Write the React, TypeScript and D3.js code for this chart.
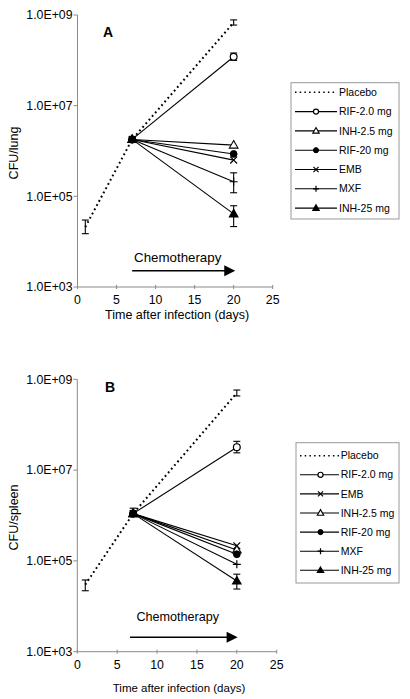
import React from "react";
import * as d3 from "d3";

// ---- Data ----
const daysPlacebo = [1, 7, 20];
const daysTreat = [7, 20];
const yTicks = [1e3, 1e5, 1e7, 1e9];
const xTicks = [0, 5, 10, 15, 20, 25];

// Panel A (lung)
const lungPlacebo = [2.1e4, 1.8e6, 6.8e8];
const lungPlaceboLo = [1.5e4, null, 6.0e8];
const lungPlaceboHi = [3.0e4, null, 7.8e8];
const lungRIF2 = [1.8e6, 1.2e8];
const lungRIF2Lo = [null, 1.0e8];
const lungRIF2Hi = [null, 1.45e8];
const lungINH2_5 = [1.8e6, 1.35e6];
const lungRIF20 = [1.8e6, 8.6e5];
const lungEMB = [1.8e6, 6.3e5];
const lungMXF = [1.8e6, 2.1e5];
const lungMXFLo = [null, 1.2e5];
const lungMXFHi = [null, 3.3e5];
const lungINH25 = [1.8e6, 4.1e4];
const lungINH25Lo = [null, 2.15e4];
const lungINH25Hi = [null, 6.2e4];

// Panel B (spleen)
const spleenPlacebo = [3.0e4, 1.1e6, 5.0e8];
const spleenPlaceboLo = [2.2e4, null, 4.3e8];
const spleenPlaceboHi = [3.8e4, 1.45e6, 5.8e8];
const spleenRIF2 = [1.1e6, 3.2e7];
const spleenRIF2Lo = [null, 2.4e7];
const spleenRIF2Hi = [null, 4.3e7];
const spleenEMB = [1.1e6, 2.15e5];
const spleenINH2_5 = [1.1e6, 1.74e5];
const spleenRIF20 = [1.1e6, 1.4e5];
const spleenMXF = [1.1e6, 8.4e4];
const spleenINH25 = [1.1e6, 3.6e4];
const spleenINH25Lo = [null, 2.4e4];
const spleenINH25Hi = [null, 5.1e4];

type Series = {
  name: string;
  marker: string;
  dotted?: boolean;
  days: number[];
  values: number[];
  lo?: (number | null)[];
  hi?: (number | null)[];
};

const seriesA: Series[] = [
  { name: "Placebo", marker: "none", dotted: true, days: daysPlacebo, values: lungPlacebo, lo: lungPlaceboLo, hi: lungPlaceboHi },
  { name: "RIF-2.0 mg", marker: "circleOpen", days: daysTreat, values: lungRIF2, lo: lungRIF2Lo, hi: lungRIF2Hi },
  { name: "INH-2.5 mg", marker: "triOpen", days: daysTreat, values: lungINH2_5 },
  { name: "RIF-20 mg", marker: "circleFilled", days: daysTreat, values: lungRIF20 },
  { name: "EMB", marker: "x", days: daysTreat, values: lungEMB },
  { name: "MXF", marker: "plus", days: daysTreat, values: lungMXF, lo: lungMXFLo, hi: lungMXFHi },
  { name: "INH-25 mg", marker: "triFilled", days: daysTreat, values: lungINH25, lo: lungINH25Lo, hi: lungINH25Hi },
];

const seriesB: Series[] = [
  { name: "Placebo", marker: "none", dotted: true, days: daysPlacebo, values: spleenPlacebo, lo: spleenPlaceboLo, hi: spleenPlaceboHi },
  { name: "RIF-2.0 mg", marker: "circleOpen", days: daysTreat, values: spleenRIF2, lo: spleenRIF2Lo, hi: spleenRIF2Hi },
  { name: "EMB", marker: "x", days: daysTreat, values: spleenEMB },
  { name: "INH-2.5 mg", marker: "triOpen", days: daysTreat, values: spleenINH2_5 },
  { name: "RIF-20 mg", marker: "circleFilled", days: daysTreat, values: spleenRIF20 },
  { name: "MXF", marker: "plus", days: daysTreat, values: spleenMXF },
  { name: "INH-25 mg", marker: "triFilled", days: daysTreat, values: spleenINH25, lo: spleenINH25Lo, hi: spleenINH25Hi },
];

const FONT = "'Liberation Sans', Arial, sans-serif";

function Marker({ type, x, y, s = 1 }: { type: string; x: number; y: number; s?: number }) {
  const r = 3.4 * s;
  switch (type) {
    case "circleOpen":
      return <circle cx={x} cy={y} r={r} fill="#fff" stroke="#000" strokeWidth={1.2} />;
    case "circleFilled":
      return <circle cx={x} cy={y} r={r} fill="#000" stroke="#000" strokeWidth={1} />;
    case "triOpen":
    case "triFilled": {
      const h = 7.5 * s;
      const w = 4.3 * s;
      const p = `M${x},${y - h * 0.6} L${x + w},${y + h * 0.4} L${x - w},${y + h * 0.4} Z`;
      return <path d={p} fill={type === "triFilled" ? "#000" : "#fff"} stroke="#000" strokeWidth={1.1} />;
    }
    case "x": {
      const a = 3.4 * s;
      return (
        <path d={`M${x - a},${y - a} L${x + a},${y + a} M${x - a},${y + a} L${x + a},${y - a}`} stroke="#000" strokeWidth={1.2} />
      );
    }
    case "plus": {
      const a = 4 * s;
      return <path d={`M${x - a},${y} L${x + a},${y} M${x},${y - a} L${x},${y + a}`} stroke="#000" strokeWidth={1.2} />;
    }
    default:
      return null;
  }
}

type PanelCfg = {
  label: string;
  yLabel: string;
  series: Series[];
  xRange: [number, number];
  yRange: [number, number];
  titleX: number;
  titleY: number;
  yLabelX: number;
  xTitleY: number;
  xTitleSize: number;
  chemoTextDy: number;
  chemoArrowDy: number;
  chemoDays: [number, number];
  chemoSize: number;
  legend: { x0: number; x1: number; y0: number; y1: number; firstRow: number; rowH: number; lx0: number; lx1: number; mx: number; tx: number };
};

function Panel({ cfg }: { cfg: PanelCfg }) {
  const x = d3.scaleLinear().domain([0, 25]).range(cfg.xRange);
  const y = d3.scaleLog().domain([1e3, 1e9]).range(cfg.yRange);
  const line = d3
    .line<[number, number]>()
    .x((d) => x(d[0]))
    .y((d) => y(d[1]));
  const bottom = cfg.yRange[0];
  const top = cfg.yRange[1];
  const left = cfg.xRange[0];
  const right = cfg.xRange[1];
  const axisColor = "#8a8a8a";
  const fmt = (v: number) => `1.0E+${String(Math.round(Math.log10(v))).padStart(2, "0")}`;
  const L = cfg.legend;
  const [c0, c1] = cfg.chemoDays;

  return (
    <g fontFamily={FONT}>
      {/* axes */}
      <line x1={left} x2={left} y1={top} y2={bottom} stroke={axisColor} strokeWidth={1} />
      <line x1={left} x2={right} y1={bottom} y2={bottom} stroke={axisColor} strokeWidth={1} />
      {yTicks.map((t) => (
        <g key={t}>
          <line x1={left - 4} x2={left} y1={y(t)} y2={y(t)} stroke={axisColor} />
          <text x={left - 5} y={y(t)} dy="0.35em" textAnchor="end" fontSize={12.3} fill="#000">
            {fmt(t)}
          </text>
        </g>
      ))}
      {xTicks.map((t) => (
        <g key={t}>
          <line x1={x(t)} x2={x(t)} y1={bottom - 2} y2={bottom + 2} stroke={axisColor} />
          <text x={x(t)} y={bottom + 17} textAnchor="middle" fontSize={12.3} fill="#000">
            {t}
          </text>
        </g>
      ))}
      <text x={(left + right) / 2 + 2} y={cfg.xTitleY} textAnchor="middle" fontSize={cfg.xTitleSize} fill="#000">
        Time after infection (days)
      </text>
      <text
        transform={`translate(${cfg.yLabelX},${(top + bottom) / 2 + 2}) rotate(-90)`}
        textAnchor="middle"
        fontSize={12.5}
        fill="#000"
      >
        {cfg.yLabel}
      </text>
      <text x={cfg.titleX} y={cfg.titleY} fontSize={14} fontWeight="bold" fill="#000">
        {cfg.label}
      </text>

      {/* chemotherapy */}
      <text x={(x(c0) + x(c1)) / 2 - 6} y={bottom - cfg.chemoTextDy} textAnchor="middle" fontSize={cfg.chemoSize} fill="#000">
        Chemotherapy
      </text>
      <line x1={x(c0)} x2={x(c1) - 9} y1={bottom - cfg.chemoArrowDy} y2={bottom - cfg.chemoArrowDy} stroke="#000" strokeWidth={1.6} />
      <path
        d={`M${x(c1)},${bottom - cfg.chemoArrowDy} L${x(c1) - 11},${bottom - cfg.chemoArrowDy - 5.5} L${x(c1) - 11},${bottom - cfg.chemoArrowDy + 5.5} Z`}
        fill="#000"
      />

      {/* series lines */}
      {cfg.series.map((s) => {
        const pts = s.days.map((d, i) => [d, s.values[i]] as [number, number]);
        return (
          <path
            key={s.name}
            d={line(pts) || ""}
            fill="none"
            stroke="#000"
            strokeWidth={s.dotted ? 2 : 1.1}
            strokeDasharray={s.dotted ? "1.8 3" : undefined}
          />
        );
      })}
      {/* error bars */}
      {cfg.series.map((s) =>
        s.days.map((d, i) => {
          const lo = s.lo ? s.lo[i] : null;
          const hi = s.hi ? s.hi[i] : null;
          if (lo == null && hi == null) return null;
          const cx = x(d);
          const yl = y(lo ?? s.values[i]);
          const yh = y(hi ?? s.values[i]);
          return (
            <g key={`${s.name}-${i}`} stroke="#000" strokeWidth={1.1}>
              <line x1={cx} x2={cx} y1={yl} y2={yh} />
              {lo != null && <line x1={cx - 3.5} x2={cx + 3.5} y1={yl} y2={yl} />}
              {hi != null && <line x1={cx - 3.5} x2={cx + 3.5} y1={yh} y2={yh} />}
            </g>
          );
        })
      )}
      {/* markers */}
      {cfg.series.map((s) =>
        s.days.map((d, i) => <Marker key={`${s.name}-m${i}`} type={s.marker} x={x(d)} y={y(s.values[i])} />)
      )}

      {/* legend */}
      <rect x={L.x0} y={L.y0} width={L.x1 - L.x0} height={L.y1 - L.y0} fill="#fff" stroke="#9a9a9a" strokeWidth={1} />
      {cfg.series.map((s, i) => {
        const ry = L.firstRow + i * L.rowH;
        return (
          <g key={`leg-${s.name}`}>
            <line
              x1={L.lx0}
              x2={L.lx1}
              y1={ry}
              y2={ry}
              stroke="#000"
              strokeWidth={s.dotted ? 1.6 : 1.1}
              strokeDasharray={s.dotted ? "1.5 3.2" : undefined}
            />
            <Marker type={s.marker} x={L.mx} y={ry} s={0.75} />
            <text x={L.tx} y={ry} dy="0.35em" fontSize={10.5} fill="#000">
              {s.name}
            </text>
          </g>
        );
      })}
    </g>
  );
}

const panelA: PanelCfg = {
  label: "A",
  yLabel: "CFU/lung",
  series: seriesA,
  xRange: [77.5, 272.7],
  yRange: [287, 15],
  titleX: 103,
  titleY: 37,
  yLabelX: 18,
  xTitleY: 319,
  xTitleSize: 12.5,
  chemoTextDy: 25,
  chemoArrowDy: 16.3,
  chemoDays: [7, 20.2],
  chemoSize: 13.3,
  legend: { x0: 291, x1: 399, y0: 82.7, y1: 219, firstRow: 92.3, rowH: 19.3, lx0: 295, lx1: 337, mx: 316, tx: 339 },
};

const panelB: PanelCfg = {
  label: "B",
  yLabel: "CFU/spleen",
  series: seriesB,
  xRange: [77.3, 276.7],
  yRange: [651.7, 379.3],
  titleX: 105,
  titleY: 392,
  yLabelX: 18,
  xTitleY: 692,
  xTitleSize: 11.5,
  chemoTextDy: 30.7,
  chemoArrowDy: 14.4,
  chemoDays: [6.6, 20.1],
  chemoSize: 12.6,
  legend: { x0: 296, x1: 399, y0: 442.7, y1: 583, firstRow: 455.7, rowH: 19.1, lx0: 300, lx1: 339, mx: 320.5, tx: 340.7 },
};

export default function App() {
  return (
    <svg
      width={410}
      height={699}
      viewBox="0 0 410 699"
      style={{ position: "absolute", left: 0, top: 0, background: "#fff" }}
    >
      <rect x={0} y={0} width={410} height={699} fill="#fff" />
      <Panel cfg={panelA} />
      <Panel cfg={panelB} />
    </svg>
  );
}
